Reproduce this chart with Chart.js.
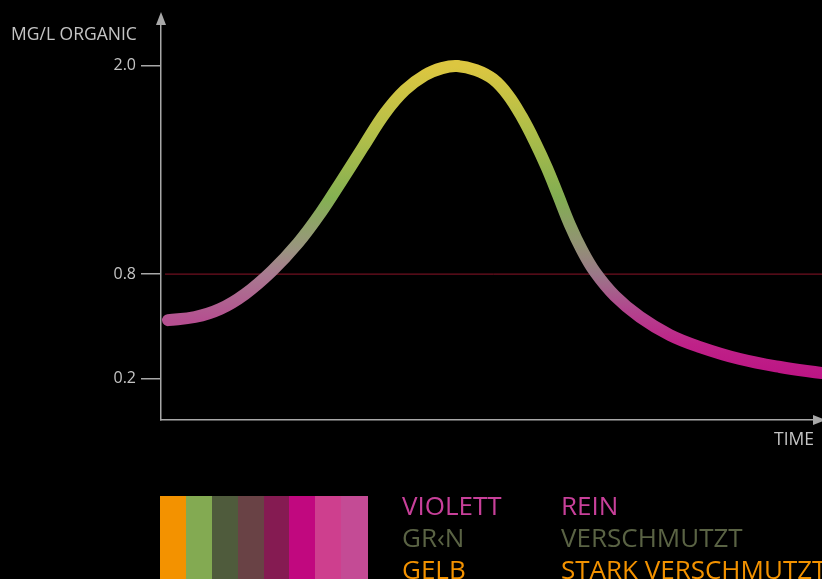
<!DOCTYPE html>
<html>
<head>
<meta charset="utf-8">
<script src="https://cdn.jsdelivr.net/npm/chart.js@4.4.1/dist/chart.umd.min.js"></script>
<style>
  html,body{margin:0;padding:0;background:#000;overflow:hidden;}
  #wrap{position:relative;width:822px;height:579px;}
  #chart{position:absolute;left:0;top:0;}
  .sw{position:absolute;top:496px;height:83px;}
  .lg{position:absolute;font:26px "Open Sans",sans-serif;white-space:nowrap;line-height:1;}
</style>
</head>
<body>
<div id="wrap"><canvas id="chart" width="822" height="579"></canvas></div>
<script>
/* Organik-Kurve: mg/l über Zeit, Farbverlauf nach Verschmutzungsgrad */

const xTime    = [1.06, 5.14, 8.93, 12.71, 16.79, 20.73, 24.05, 27.38, 30.56, 33.89, 36.91, 39.94, 42.51, 44.78,
                  47.66, 50.23, 52.5, 54.61, 56.58, 58.4, 60.06, 61.88, 63.69, 65.66, 68.68, 72.47, 77.0, 81.54, 87.59, 93.65, 100];
const yOrganic = [0.535, 0.553, 0.599, 0.685, 0.818, 0.979, 1.147, 1.341, 1.531, 1.727, 1.86, 1.946, 1.986, 1.998,
                  1.975, 1.923, 1.831, 1.704, 1.56, 1.41, 1.255, 1.082, 0.938, 0.812, 0.674, 0.553, 0.449, 0.38, 0.311, 0.265, 0.23];
const yTicks    = [0.2, 0.8, 2.0];
const threshold = 0.8;

const swatchColors = ["#f39200","#83aa52","#4f5b3c","#694245","#851b52","#c1087f","#ce3f8e","#c44b95"];
const legendNames   = ["VIOLETT","GR‹N","GELB"];
const legendMeaning = ["REIN","VERSCHMUTZT","STARK VERSCHMUTZT"];
const legendColors  = ["#c8409a","#5a6344","#f39200"];

// Verlauf: [Wert, Farbe] links bzw. rechts vom Maximum
const leftStops  = [[2.0,"#dcc640"],[1.64,"#b8c048"],[1.24,"#84b052"],[0.94,"#9a9480"],[0.8,"#a87a90"],[0.53,"#b54f90"]];
const rightStops = [[2.0,"#dcc640"],[1.64,"#b0be48"],[1.24,"#82ad52"],[0.97,"#929274"],[0.8,"#9a7888"],[0.6,"#b2468e"],[0.4,"#bf2288"],[0.2,"#bc1484"]];

const AX = "#a8a8a8", TXT = "#c4c4c4", FONT = "'Open Sans',sans-serif";
const peakIdx = yOrganic.indexOf(Math.max(...yOrganic));

let gradCache = null;
function grads(chart){
  const ca = chart.chartArea;
  if(gradCache && gradCache.key === ca.top+"_"+ca.bottom) return gradCache;
  const ys = chart.scales.y, c = chart.ctx;
  const mk = stops=>{
    const g = c.createLinearGradient(0, ca.top, 0, ca.bottom);
    stops.forEach(([v,col])=>{
      const p = (ys.getPixelForValue(v)-ca.top)/(ca.bottom-ca.top);
      g.addColorStop(Math.min(1,Math.max(0,p)), col);
    });
    return g;
  };
  gradCache = { key:ca.top+"_"+ca.bottom, left:mk(leftStops), right:mk(rightStops) };
  return gradCache;
}

const decoPlugin = {
  id:"deco",
  afterDraw(chart){
    const { ctx, chartArea } = chart;
    const ax = chartArea.left, ay = chartArea.bottom;
    ctx.save();
    ctx.fillStyle = AX;
    // Pfeil y
    ctx.beginPath(); ctx.moveTo(ax,12); ctx.lineTo(ax-5,25); ctx.lineTo(ax+5,25); ctx.closePath(); ctx.fill();
    ctx.fillRect(ax-0.75, 24, 1.5, chartArea.top-24+1);
    // Pfeil x
    ctx.beginPath(); ctx.moveTo(826,ay); ctx.lineTo(813,ay-5); ctx.lineTo(813,ay+5); ctx.closePath(); ctx.fill();
    ctx.font = "17.5px "+FONT; ctx.fillStyle = TXT; ctx.textBaseline = "alphabetic";
    ctx.textAlign = "left";  ctx.fillText("MG/L ORGANIC", 11, 40);
    ctx.textAlign = "right"; ctx.fillText("TIME", 814, 445);
    ctx.restore();
  }
};

const chart = new Chart(document.getElementById("chart"), {
  type:"line",
  data:{ datasets:[
    { data:xTime.map((x,i)=>({x, y:yOrganic[i]})), borderWidth:12, borderCapStyle:"round", borderJoinStyle:"round",
      pointRadius:0, tension:0.4, order:1, clip:8,
      borderColor:"#b54f90",
      segment:{ borderColor:c=>{ const g = grads(c.chart || chart); return c.p1DataIndex <= peakIdx ? g.left : g.right; } } },
    { data:[{x:0.6,y:threshold},{x:100,y:threshold}], borderColor:"#8c1428", borderWidth:1, pointRadius:0, order:2 }
  ]},
  options:{
    responsive:false, animation:false, events:[],
    layout:{ padding:{ top:24, right:0, bottom:159, left:0 } },
    plugins:{ legend:{display:false}, tooltip:{enabled:false} },
    scales:{
      x:{ type:"linear", min:0, max:100,
        grid:{ display:false }, ticks:{ display:false },
        border:{ display:true, color:AX, width:1.5 },
        afterFit(s){ s.height = 0; } },
      y:{ min:-0.04, max:2.24,
        afterBuildTicks(s){ s.ticks = yTicks.map(v=>({value:v})); },
        grid:{ drawOnChartArea:false, drawTicks:true, tickLength:20, color:AX, lineWidth:1.5 },
        border:{ display:true, color:AX, width:1.5 },
        ticks:{ color:TXT, padding:5, font:{ family:FONT, size:16 }, callback:v=>v.toFixed(1) },
        afterFit(s){ s.width = 161; } }
    }
  },
  plugins:[decoPlugin]
});

// Legende unten
const wrap = document.getElementById("wrap");
const swW = (367-160)/swatchColors.length;
swatchColors.forEach((col,i)=>{
  const d = document.createElement("div");
  d.className = "sw";
  d.style.left = (160 + i*swW) + "px"; d.style.width = (swW+0.5) + "px"; d.style.background = col;
  wrap.appendChild(d);
});
legendNames.forEach((n,i)=>{
  [[n,402],[legendMeaning[i],561]].forEach(([txt,x])=>{
    const s = document.createElement("div");
    s.className = "lg"; s.textContent = txt; s.style.color = legendColors[i];
    s.style.left = x+"px"; s.style.top = (492 + i*32)+"px";
    wrap.appendChild(s);
  });
});
</script>
</body>
</html>
